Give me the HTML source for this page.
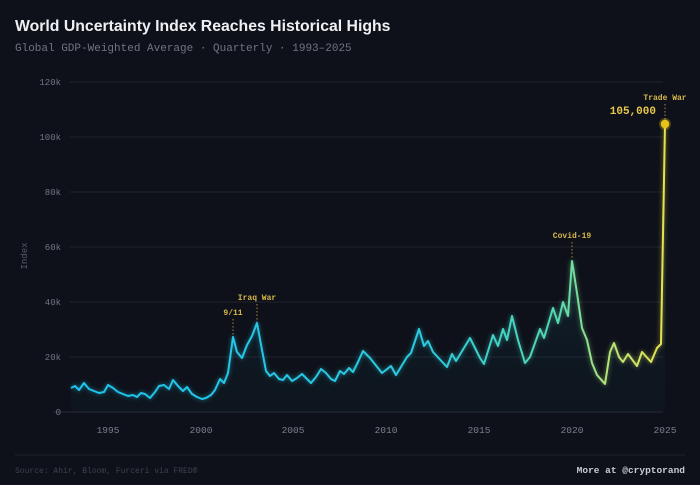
<!DOCTYPE html>
<html><head><meta charset="utf-8"><style>
html,body{margin:0;padding:0;background:#0e1119;}
svg{display:block}
.m{font-family:"Liberation Mono","DejaVu Sans Mono",monospace}
</style></head><body>
<svg width="700" height="485" viewBox="0 0 700 485" xmlns="http://www.w3.org/2000/svg">
<defs>
<linearGradient id="lg" gradientUnits="userSpaceOnUse" x1="70" y1="0" x2="665" y2="0">
<stop offset="0" stop-color="#1fc3ec"/>
<stop offset="0.6" stop-color="#2ccbe0"/>
<stop offset="0.82" stop-color="#55d8b0"/>
<stop offset="0.9" stop-color="#b2e47a"/>
<stop offset="1" stop-color="#e8e24a"/>
</linearGradient>
<linearGradient id="fg" x1="0" y1="0" x2="0" y2="1">
<stop offset="0" stop-color="#1fc3ec" stop-opacity="0.12"/>
<stop offset="1" stop-color="#1fc3ec" stop-opacity="0.02"/>
</linearGradient>
<filter id="gl" x="-5%" y="-5%" width="110%" height="110%"><feGaussianBlur stdDeviation="2.5"/></filter>
</defs>
<rect width="700" height="485" fill="#0e1119"/>
<text x="15" y="31" font-family="Liberation Sans, sans-serif" font-weight="bold" font-size="15.8" fill="#eef0f4">World Uncertainty Index Reaches Historical Highs</text>
<text x="15" y="51" class="m" font-size="11" fill="#6f7580">Global GDP-Weighted Average · Quarterly · 1993–2025</text>
<g stroke="#20242d" stroke-width="1">
<line x1="70" y1="82" x2="663" y2="82"/><line x1="70" y1="137" x2="663" y2="137"/><line x1="70" y1="192" x2="663" y2="192"/><line x1="70" y1="247" x2="663" y2="247"/><line x1="70" y1="302" x2="663" y2="302"/><line x1="70" y1="357" x2="663" y2="357"/><line x1="53" y1="412" x2="663" y2="412" stroke="#252a33"/>
</g>
<g class="m" font-size="9" fill="#6f7580" text-anchor="end">
<text x="61" y="85">120k</text><text x="61" y="140">100k</text><text x="61" y="195">80k</text><text x="61" y="250">60k</text><text x="61" y="305">40k</text><text x="61" y="360">20k</text><text x="61" y="415">0</text>
</g>
<text transform="translate(27,256) rotate(-90)" class="m" font-size="9" fill="#555b66" text-anchor="middle">Index</text>
<g class="m" font-size="9.5" fill="#7a808a" text-anchor="middle">
<text x="108" y="433">1995</text><text x="201" y="433">2000</text><text x="293" y="433">2005</text><text x="386" y="433">2010</text><text x="479" y="433">2015</text><text x="572" y="433">2020</text><text x="665" y="433">2025</text>
</g>
<g id="series">
<path fill="url(#fg)" d="M71,388 L75,386 L79,390 L84,383 L89,389 L94,391 L99,393 L104,392 L108,385 L113,388 L118,392 L123,394 L128,396 L133,395 L137,397 L141,393 L145,394 L150,398 L155,392 L159,386 L164,385 L169,389 L173,380 L178,386 L183,391 L187,387 L192,394 L197,397 L202,399 L206,398 L211,395 L215,390 L220,379 L224,383 L228,373 L233,337 L237,352 L242,358 L247,345 L252,336 L257,323 L262,350 L266,371 L270,376 L274,373 L279,379 L283,380 L287,375 L292,381 L297,378 L302,374 L306,378 L311,383 L316,377 L321,369 L326,373 L331,379 L335,381 L340,371 L344,374 L349,368 L353,372 L358,362 L363,351 L370,358 L382,373 L391,366 L396,375 L407,357 L411,353 L419,329 L424,346 L428,341 L433,352 L447,367 L452,354 L456,361 L470,338 L480,358 L484,364 L493,335 L498,346 L503,329 L507,340 L512,316 L518,340 L525,363 L530,357 L540,329 L544,338 L553,308 L558,323 L563,302 L568,316 L572,261 L577,293 L582,328 L587,340 L592,363 L597,375 L605,384 L610,352 L614,343 L619,357 L623,362 L628,354 L637,366 L642,352 L651,362 L657,348 L661,344 L665,124 L665,412 L71,412 Z"/>
<path id="ln" fill="none" stroke="url(#lg)" stroke-width="2" stroke-linejoin="round" d="M71,388 L75,386 L79,390 L84,383 L89,389 L94,391 L99,393 L104,392 L108,385 L113,388 L118,392 L123,394 L128,396 L133,395 L137,397 L141,393 L145,394 L150,398 L155,392 L159,386 L164,385 L169,389 L173,380 L178,386 L183,391 L187,387 L192,394 L197,397 L202,399 L206,398 L211,395 L215,390 L220,379 L224,383 L228,373 L233,337 L237,352 L242,358 L247,345 L252,336 L257,323 L262,350 L266,371 L270,376 L274,373 L279,379 L283,380 L287,375 L292,381 L297,378 L302,374 L306,378 L311,383 L316,377 L321,369 L326,373 L331,379 L335,381 L340,371 L344,374 L349,368 L353,372 L358,362 L363,351 L370,358 L382,373 L391,366 L396,375 L407,357 L411,353 L419,329 L424,346 L428,341 L433,352 L447,367 L452,354 L456,361 L470,338 L480,358 L484,364 L493,335 L498,346 L503,329 L507,340 L512,316 L518,340 L525,363 L530,357 L540,329 L544,338 L553,308 L558,323 L563,302 L568,316 L572,261 L577,293 L582,328 L587,340 L592,363 L597,375 L605,384 L610,352 L614,343 L619,357 L623,362 L628,354 L637,366 L642,352 L651,362 L657,348 L661,344 L665,124"/>
</g>
<use href="#ln" filter="url(#gl)" opacity="0.6"/>
<g stroke="#c9a93a" stroke-width="1" stroke-dasharray="1.5,2" opacity="0.8">
<line x1="233" y1="319" x2="233" y2="336"/><line x1="257" y1="304" x2="257" y2="322"/><line x1="572" y1="242" x2="572" y2="259"/><line x1="665" y1="104" x2="665" y2="120"/>
</g>
<g class="m" font-size="8" font-weight="bold" fill="#d7b84a" text-anchor="middle">
<text x="233" y="315">9/11</text><text x="257" y="300">Iraq War</text><text x="572" y="238">Covid-19</text><text x="665" y="100">Trade War</text>
</g>
<text x="656" y="114" class="m" font-size="11" font-weight="bold" fill="#e8c84a" text-anchor="end">105,000</text>
<circle cx="665" cy="124" r="6" fill="#e8c31c" opacity="0.3"/>
<circle cx="665" cy="124" r="4.2" fill="#e8c31c"/>
<line x1="15" y1="455" x2="685" y2="455" stroke="#20242c"/>
<text x="15" y="473" class="m" font-size="8" fill="#3c424c">Source: Ahir, Bloom, Furceri via FRED®</text>
<text x="685" y="473" class="m" font-size="9.5" font-weight="bold" fill="#c9ccd2" text-anchor="end">More at @cryptorand</text>
</svg>
</body></html>
